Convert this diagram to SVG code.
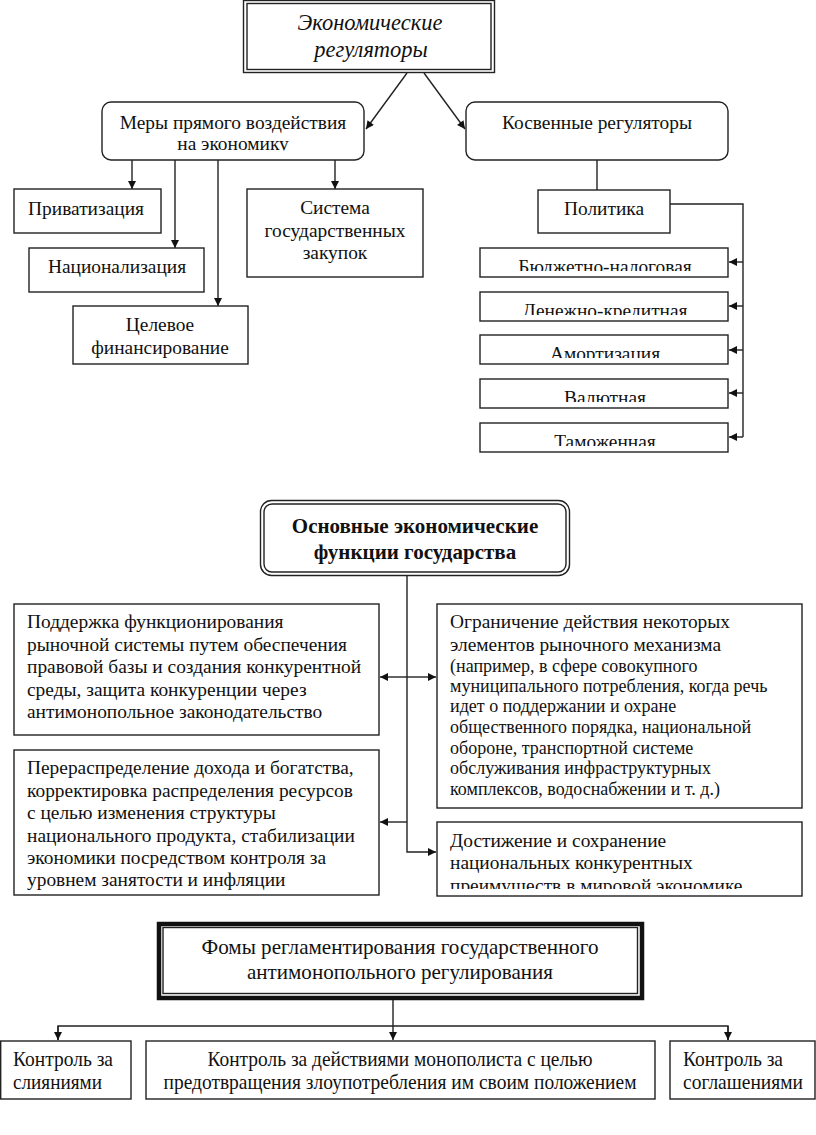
<svg xmlns="http://www.w3.org/2000/svg" width="816" height="1135" viewBox="0 0 816 1135">
<style>
.bx{fill:#fff;stroke:#222;stroke-width:1.4}
.ln{fill:none;stroke:#222;stroke-width:1.4}
.t{font-family:"Liberation Serif","Times New Roman",serif;font-size:19.4px;fill:#111}
.c{text-anchor:middle}
.it{font-style:italic;font-size:22.5px}
.b{font-weight:bold;font-size:21px}
.s{font-size:18px}
.n{font-size:21px}
</style>
<defs>
<marker id="ah" viewBox="0 0 10 10" refX="10" refY="5" markerWidth="10" markerHeight="8" markerUnits="userSpaceOnUse" orient="auto">
<path d="M0,0 L10,5 L0,10 z" fill="#111"/>
</marker>
<clipPath id="cm"><rect x="102" y="102" width="262" height="48.5"/></clipPath>
<clipPath id="p1"><rect x="480" y="248" width="248" height="23"/></clipPath>
<clipPath id="p2"><rect x="480" y="292" width="248" height="23"/></clipPath>
<clipPath id="p3"><rect x="480" y="335" width="248" height="23"/></clipPath>
<clipPath id="p4"><rect x="480" y="379" width="248" height="23"/></clipPath>
<clipPath id="p5"><rect x="480" y="423" width="248" height="23"/></clipPath>
<clipPath id="cd"><rect x="437" y="822" width="365" height="67"/></clipPath>
</defs>

<g id="connectors">
<line class="ln" x1="407" y1="73" x2="366" y2="129" marker-end="url(#ah)"/>
<line class="ln" x1="424" y1="73" x2="465" y2="129" marker-end="url(#ah)"/>
<line class="ln" x1="132" y1="160" x2="132" y2="189" marker-end="url(#ah)"/>
<line class="ln" x1="175" y1="160" x2="175" y2="248" marker-end="url(#ah)"/>
<line class="ln" x1="218" y1="160" x2="218" y2="306" marker-end="url(#ah)"/>
<line class="ln" x1="335" y1="160" x2="335" y2="189" marker-end="url(#ah)"/>
<line class="ln" x1="597" y1="160" x2="597" y2="190"/>
<path class="ln" d="M670,204 H743 V437"/>
<line class="ln" x1="743" y1="262" x2="729" y2="262" marker-end="url(#ah)"/>
<line class="ln" x1="743" y1="306" x2="729" y2="306" marker-end="url(#ah)"/>
<line class="ln" x1="743" y1="350" x2="729" y2="350" marker-end="url(#ah)"/>
<line class="ln" x1="743" y1="393" x2="729" y2="393" marker-end="url(#ah)"/>
<line class="ln" x1="743" y1="437" x2="729" y2="437" marker-end="url(#ah)"/>
<path class="ln" d="M407,576 V852 H436" marker-end="url(#ah)"/>
<line class="ln" x1="407" y1="677" x2="380" y2="677" marker-end="url(#ah)"/>
<line class="ln" x1="407" y1="677" x2="436" y2="677" marker-end="url(#ah)"/>
<line class="ln" x1="407" y1="822" x2="380" y2="822" marker-end="url(#ah)"/>
<line class="ln" x1="393" y1="1000" x2="393" y2="1040" marker-end="url(#ah)"/>
<path class="ln" d="M58,1040 V1026 H728 V1040"/>
<line class="ln" x1="58" y1="1026" x2="58" y2="1040" marker-end="url(#ah)"/>
<line class="ln" x1="728" y1="1026" x2="728" y2="1040" marker-end="url(#ah)"/>
</g>

<g id="n-econ-reg">
<rect class="bx" x="243.5" y="0.5" width="251" height="72"/>
<rect class="ln" x="247" y="3.5" width="244" height="66" stroke-width="1"/>
<text class="t it c" x="370" y="30">Экономические</text>
<text class="t it c" x="371" y="57">регуляторы</text>
</g>

<g id="n-direct">
<rect class="bx" x="102" y="102" width="262" height="58" rx="9"/>
<g clip-path="url(#cm)">
<text class="t c" x="233" y="129">Меры прямого воздействия</text>
<text class="t c" x="233" y="150">на экономику</text>
</g>
</g>

<g id="n-indirect">
<rect class="bx" x="466" y="102" width="262" height="58" rx="9"/>
<text class="t c" x="597" y="129">Косвенные регуляторы</text>
</g>

<g id="n-privat">
<rect class="bx" x="14" y="189" width="147" height="44"/>
<text class="t c" x="86" y="215">Приватизация</text>
</g>
<g id="n-nation">
<rect class="bx" x="29" y="248" width="175" height="44"/>
<text class="t c" x="117" y="273">Национализация</text>
</g>
<g id="n-target">
<rect class="bx" x="73" y="306" width="175" height="58"/>
<text class="t c" x="160" y="331">Целевое</text>
<text class="t c" x="160" y="354">финансирование</text>
</g>
<g id="n-procure">
<rect class="bx" x="247" y="189" width="176" height="88"/>
<text class="t c" x="335" y="214">Система</text>
<text class="t c" x="335" y="237">государственных</text>
<text class="t c" x="335" y="259">закупок</text>
</g>

<g id="n-policy">
<rect class="bx" x="538" y="190" width="132" height="43"/>
<text class="t c" x="604" y="215">Политика</text>
</g>
<g id="n-budget">
<rect class="bx" x="480" y="248" width="248" height="29"/>
<text class="t c" x="605" y="273" clip-path="url(#p1)">Бюджетно-налоговая</text>
</g>
<g id="n-money">
<rect class="bx" x="480" y="292" width="248" height="29"/>
<text class="t c" x="605" y="317" clip-path="url(#p2)">Денежно-кредитная</text>
</g>
<g id="n-amort">
<rect class="bx" x="480" y="335" width="248" height="29"/>
<text class="t c" x="605" y="360" clip-path="url(#p3)">Амортизация</text>
</g>
<g id="n-currency">
<rect class="bx" x="480" y="379" width="248" height="29"/>
<text class="t c" x="605" y="404" clip-path="url(#p4)">Валютная</text>
</g>
<g id="n-customs">
<rect class="bx" x="480" y="423" width="248" height="29"/>
<text class="t c" x="605" y="448" clip-path="url(#p5)">Таможенная</text>
</g>

<g id="n-functions">
<rect class="bx" x="260.5" y="500.5" width="309" height="75" rx="11"/>
<rect class="ln" x="264" y="504" width="302" height="68" rx="8" stroke-width="1"/>
<text class="t b c" x="415" y="533">Основные экономические</text>
<text class="t b c" x="415" y="559">функции государства</text>
</g>

<g id="n-support">
<rect class="bx" x="14" y="604" width="365" height="131"/>
<text class="t" x="27" y="628">Поддержка функционирования</text>
<text class="t" x="27" y="651">рыночной системы путем обеспечения</text>
<text class="t" x="27" y="673">правовой базы и создания конкурентной</text>
<text class="t" x="27" y="696">среды, защита конкуренции через</text>
<text class="t" x="27" y="718">антимонопольное законодательство</text>
</g>

<g id="n-redistr">
<rect class="bx" x="14" y="750" width="365" height="145"/>
<text class="t" x="27" y="774">Перераспределение дохода и богатства,</text>
<text class="t" x="27" y="797">корректировка распределения ресурсов</text>
<text class="t" x="27" y="819">с целью изменения структуры</text>
<text class="t" x="27" y="842">национального продукта, стабилизации</text>
<text class="t" x="27" y="864">экономики посредством контроля за</text>
<text class="t" x="27" y="886">уровнем занятости и инфляции</text>
</g>

<g id="n-limit">
<rect class="bx" x="437" y="604" width="365" height="204"/>
<text class="t" x="450" y="628">Ограничение действия некоторых</text>
<text class="t" x="450" y="651">элементов рыночного механизма</text>
<text class="t s" x="450" y="672">(например, в сфере совокупного</text>
<text class="t s" x="450" y="692">муниципального потребления, когда речь</text>
<text class="t s" x="450" y="712">идет о поддержании и охране</text>
<text class="t s" x="450" y="733">общественного порядка, национальной</text>
<text class="t s" x="450" y="754">обороне, транспортной системе</text>
<text class="t s" x="450" y="774">обслуживания инфраструктурных</text>
<text class="t s" x="450" y="795">комплексов, водоснабжении и т. д.)</text>
</g>

<g id="n-compet">
<rect class="bx" x="437" y="822" width="365" height="74"/>
<g clip-path="url(#cd)">
<text class="t" x="450" y="847">Достижение и сохранение</text>
<text class="t" x="450" y="869">национальных конкурентных</text>
<text class="t" x="450" y="892">преимуществ в мировой экономике</text>
</g>
</g>

<g id="n-forms">
<rect x="159" y="924" width="483" height="74" fill="#fff" stroke="#111" stroke-width="4.5"/>
<rect class="ln" x="163" y="927.5" width="474.5" height="66" stroke-width="1.2"/>
<text class="t n c" x="400" y="954" textLength="397" lengthAdjust="spacingAndGlyphs">Фомы регламентирования государственного</text>
<text class="t n c" x="400" y="979" textLength="306" lengthAdjust="spacingAndGlyphs">антимонопольного регулирования</text>
</g>

<g id="n-merge">
<rect class="bx" x="0.7" y="1041" width="130.3" height="58"/>
<text class="t n" x="13" y="1066" textLength="100" lengthAdjust="spacingAndGlyphs">Контроль за</text>
<text class="t n" x="13" y="1089" textLength="89" lengthAdjust="spacingAndGlyphs">слияниями</text>
</g>
<g id="n-monopol">
<rect class="bx" x="146" y="1041" width="509" height="58"/>
<text class="t n c" x="400" y="1066" textLength="385" lengthAdjust="spacingAndGlyphs">Контроль за действиями монополиста с целью</text>
<text class="t n c" x="400" y="1089" textLength="473" lengthAdjust="spacingAndGlyphs">предотвращения злоупотребления им своим положением</text>
</g>
<g id="n-agree">
<rect class="bx" x="670" y="1041" width="145" height="58"/>
<text class="t n" x="683" y="1066" textLength="100" lengthAdjust="spacingAndGlyphs">Контроль за</text>
<text class="t n" x="683" y="1089" textLength="120" lengthAdjust="spacingAndGlyphs">соглашениями</text>
</g>
</svg>
